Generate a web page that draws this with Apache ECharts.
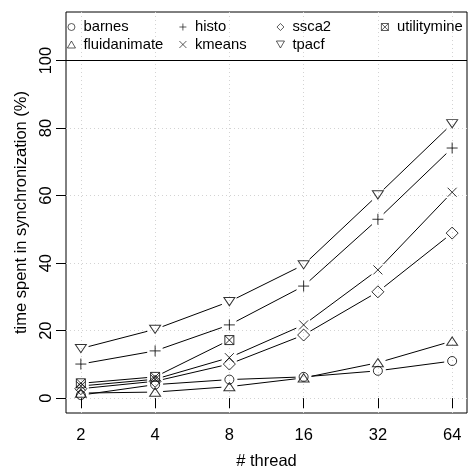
<!DOCTYPE html>
<html>
<head>
<meta charset="utf-8">
<script src="https://cdn.jsdelivr.net/npm/echarts@6/dist/echarts.min.js"></script>
<style>
  html, body { margin: 0; padding: 0; background: #fff; }
  #chart { width: 468px; height: 469px; }
</style>
</head>
<body>
<div id="chart"></div>
<script>
var threads = [2, 4, 8, 16, 32, 64];
var yTicks = [0, 20, 40, 60, 80, 100];

var barnes = [0.9, 4.0, 5.5, 6.3, 8.1, 11.0];
var fluidanimate = [1.5, 1.8, 3.4, 6.0, 10.5, 16.9];
var histo = [10.1, 14.0, 21.7, 33.2, 53.0, 74.1];
var kmeans = [3.6, 5.6, 12.0, 21.7, 38.0, 61.0];
var ssca2 = [2.8, 5.0, 10.1, 18.7, 31.5, 48.9];
var tpacf = [14.7, 20.4, 28.6, 39.5, 60.2, 81.3];
var utilitymine = [4.4, 6.3, 17.2];

var FONT = 'Liberation Sans, Arial, Helvetica, sans-serif';
var GAP = 8; /* R type="b": segments stop short of the points */

var benches = [
    { name: 'barnes', values: barnes, symbol: 'circle', size: 9 },
    { name: 'fluidanimate', values: fluidanimate, symbol: 'path://M5,0 L10,8.66 L0,8.66 Z', size: [11, 9.5] },
    { name: 'histo', values: histo, symbol: 'path://M5,0 L5,10 M0,5 L10,5', size: 11 },
    { name: 'kmeans', values: kmeans, symbol: 'path://M0,0 L10,10 M10,0 L0,10', size: 9 },
    { name: 'ssca2', values: ssca2, symbol: 'path://M5,0 L10,5 L5,10 L0,5 Z', size: 12 },
    { name: 'tpacf', values: tpacf, symbol: 'path://M0,0 L10,0 L5,8.66 Z', size: [11, 9.5] },
    { name: 'utilitymine', values: utilitymine, symbol: 'path://M0,0 L10,0 L10,10 L0,10 Z M0,0 L10,10 M10,0 L0,10', size: 9 }
];

function log2(v) { return Math.log(v) / Math.LN2; }

function renderSeg(params, api) {
    var a = api.coord([api.value(0), api.value(1)]);
    var b = api.coord([api.value(2), api.value(3)]);
    var dx = b[0] - a[0], dy = b[1] - a[1];
    var len = Math.sqrt(dx * dx + dy * dy);
    if (len <= 2 * GAP) return;
    var ux = dx / len, uy = dy / len;
    return {
        type: 'line',
        shape: { x1: a[0] + ux * GAP, y1: a[1] + uy * GAP, x2: b[0] - ux * GAP, y2: b[1] - uy * GAP },
        style: { stroke: '#000', lineWidth: 1 }
    };
}

var series = [];
benches.forEach(function (b) {
    var pts = b.values.map(function (v, i) { return [log2(threads[i]), v]; });
    series.push({
        name: b.name,
        type: 'scatter',
        symbol: b.symbol,
        symbolSize: b.size,
        symbolKeepAspect: true,
        data: pts,
        itemStyle: { color: 'transparent', borderColor: '#000', borderWidth: 1 },
        emphasis: { disabled: true },
        z: 3
    });
});
benches.forEach(function (b) {
    var segs = [];
    for (var i = 0; i < b.values.length - 1; i++) {
        segs.push([log2(threads[i]), b.values[i], log2(threads[i + 1]), b.values[i + 1]]);
    }
    series.push({
        type: 'custom',
        renderItem: renderSeg,
        encode: { x: [0, 2], y: [1, 3] },
        data: segs,
        silent: true,
        z: 2
    });
});
/* horizontal reference line at 100% */
series.push({
    type: 'line',
    data: [],
    markLine: {
        silent: true,
        symbol: 'none',
        label: { show: false },
        lineStyle: { color: '#000', type: 'solid', width: 1 },
        data: [{ yAxis: 100 }]
    }
});

function legendCol(names, left) {
    return {
        orient: 'vertical',
        left: left,
        top: 19.5,
        padding: 0,
        itemGap: 2.5,
        itemWidth: 14,
        itemHeight: 7,
        selectedMode: false,
        symbolKeepAspect: true,
        itemStyle: { borderWidth: 0.8 },
        textStyle: { fontFamily: FONT, fontSize: 14.8, color: '#000', lineHeight: 15 },
        data: names
    };
}

var option = {
    animation: false,
    backgroundColor: '#fff',
    grid: {
        left: 66, top: 12, width: 401, height: 401,
        outerBoundsMode: 'none',
        show: true, borderColor: '#000', borderWidth: 1, backgroundColor: 'transparent'
    },
    legend: [
        legendCol(['barnes', 'fluidanimate'], 67),
        legendCol(['histo', 'kmeans'], 179),
        legendCol(['ssca2', 'tpacf'], 276),
        legendCol(['utilitymine'], 381)
    ],
    xAxis: {
        type: 'value',
        min: 0.8,
        max: 6.2,
        name: '# thread',
        nameLocation: 'middle',
        nameGap: 40,
        nameTextStyle: { fontFamily: FONT, fontSize: 16.5, color: '#000' },
        axisLine: { show: false },
        axisTick: { show: true, length: 10, lineStyle: { color: '#000' }, customValues: threads.map(log2) },
        axisLabel: {
            customValues: threads.map(log2),
            margin: 14,
            fontFamily: FONT, fontSize: 16.5, color: '#000',
            formatter: function (v) { return String(Math.round(Math.pow(2, v))); }
        },
        splitLine: { show: true, lineStyle: { color: '#d3d3d3', type: [1, 3], width: 1 } }
    },
    yAxis: {
        type: 'value',
        min: -4.4,
        max: 114.4,
        name: 'time spent in synchronization (%)',
        nameLocation: 'middle',
        nameRotate: 90,
        nameGap: 31,
        nameTextStyle: { fontFamily: FONT, fontSize: 16.5, color: '#000' },
        axisLine: { show: false },
        axisTick: { show: true, length: 10, lineStyle: { color: '#000' }, customValues: yTicks },
        axisLabel: {
            customValues: yTicks,
            rotate: 90,
            margin: 11,
            fontFamily: FONT, fontSize: 16.5, color: '#000'
        },
        splitLine: { show: true, lineStyle: { color: '#d3d3d3', type: [1, 3], width: 1 } }
    },
    series: series
};

var chart = echarts.init(document.getElementById('chart'), null, { renderer: 'canvas' });
chart.setOption(option);
</script>
</body>
</html>
